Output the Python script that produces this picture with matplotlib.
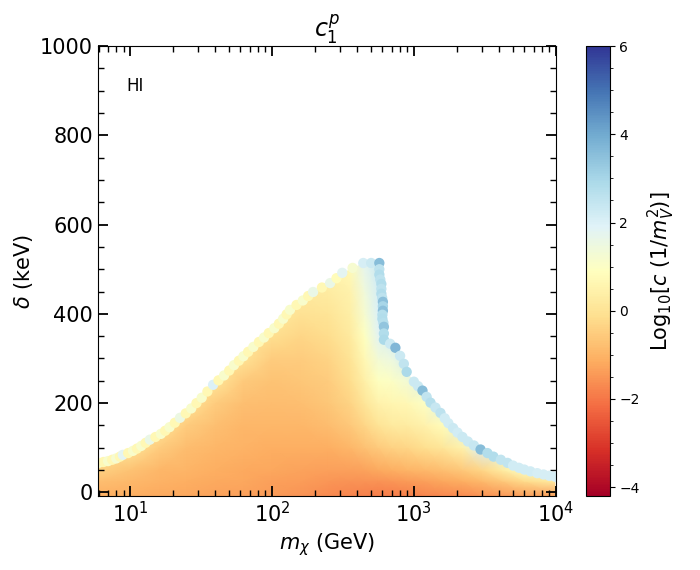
import matplotlib
matplotlib.use("Agg")
import matplotlib.pyplot as plt
from matplotlib.colors import Normalize
from matplotlib.patches import Polygon
from matplotlib.ticker import MultipleLocator
import numpy as np

# grid of log10 c values (columns = mass, rows = delta)
mass_grid = [5.9, 10, 16, 25, 40, 63, 100, 160, 250, 355, 450, 560, 700, 900, 1200, 1600, 2200, 3000, 4200, 6000, 10000]
delta_grid = [-10, 25, 50, 100, 150, 200, 250, 300, 350, 400, 450, 520]
logc_by_mass = [
    [-1.1, -0.8, -0.4, 0.1, 0.1, 0.1, 0.1, 0.1, 0.1, 0.1, 0.1, 0.1],
    [-1.1, -0.9, -0.7, 0.1, 0.1, 0.1, 0.1, 0.1, 0.1, 0.1, 0.1, 0.1],
    [-1.2, -1.05, -0.95, -0.5, 0.1, 0.1, 0.1, 0.1, 0.1, 0.1, 0.1, 0.1],
    [-1.25, -1.1, -1.0, -0.85, -0.5, 0.1, 0.1, 0.1, 0.1, 0.1, 0.1, 0.1],
    [-1.3, -1.2, -1.1, -0.95, -0.8, -0.5, 0.1, 0.1, 0.1, 0.1, 0.1, 0.1],
    [-1.35, -1.25, -1.2, -1.05, -0.95, -0.8, -0.55, 0.0, 0.2, 0.2, 0.2, 0.2],
    [-1.45, -1.35, -1.25, -1.1, -0.95, -0.85, -0.7, -0.5, -0.1, 0.2, 0.2, 0.2],
    [-1.55, -1.4, -1.3, -1.1, -0.95, -0.8, -0.65, -0.5, -0.3, -0.05, 0.2, 0.3],
    [-1.7, -1.5, -1.35, -1.1, -0.85, -0.65, -0.5, -0.35, -0.15, 0.05, 0.3, 0.5],
    [-1.8, -1.55, -1.35, -0.95, -0.6, -0.35, -0.15, 0.0, 0.2, 0.35, 0.5, 0.8],
    [-1.85, -1.55, -1.3, -0.75, -0.3, 0.1, 0.4, 0.7, 0.9, 1.2, 1.4, 1.8],
    [-1.9, -1.55, -1.2, -0.55, 0.0, 0.5, 0.9, 1.3, 1.8, 2.0, 2.1, 2.3],
    [-1.9, -1.5, -1.1, -0.4, 0.2, 0.6, 1.0, 1.5, 2.2, 2.2, 2.2, 2.2],
    [-1.85, -1.45, -1.0, -0.3, 0.3, 0.7, 1.3, 2.2, 2.2, 2.2, 2.2, 2.2],
    [-1.8, -1.35, -0.9, -0.1, 0.5, 1.0, 2.2, 2.2, 2.2, 2.2, 2.2, 2.2],
    [-1.75, -1.25, -0.8, 0.1, 0.8, 2.2, 2.2, 2.2, 2.2, 2.2, 2.2, 2.2],
    [-1.7, -1.1, -0.6, 0.5, 2.1, 2.1, 2.1, 2.1, 2.1, 2.1, 2.1, 2.1],
    [-1.6, -0.9, -0.3, 2.0, 2.0, 2.0, 2.0, 2.0, 2.0, 2.0, 2.0, 2.0],
    [-1.5, -0.6, 0.3, 2.1, 2.1, 2.1, 2.1, 2.1, 2.1, 2.1, 2.1, 2.1],
    [-1.45, -0.2, 1.0, 2.1, 2.1, 2.1, 2.1, 2.1, 2.1, 2.1, 2.1, 2.1],
    [-1.4, 0.3, 1.4, 2.1, 2.1, 2.1, 2.1, 2.1, 2.1, 2.1, 2.1, 2.1],
]

# outermost points along the top of the allowed region, left to right
edge_mass = [6.0, 6.5, 7.0, 7.5, 8.0, 8.5, 8.9, 9.7, 10.5, 11.2, 12.0, 12.9, 13.8, 15.1, 16.5,
             17.7, 19.0, 20.7, 22.5, 24.7, 27.0, 29.4, 32.0, 35.1, 38.5, 42.0, 46.0, 50.0, 54.0,
             58.5, 63.0, 68.0, 74.0, 81.0, 88.0, 95.0, 104.0, 112.0, 120.0, 127.0, 134.0, 149.0,
             165.0, 180.0, 195.0, 225.0, 257.0, 285.0, 313.0, 370.0, 440.0, 500.0,
             571.0, 571.0, 571.0, 580.0, 590.0, 590.0, 590.0, 598.0, 605.0, 605.0, 605.0, 600.0,
             600.0, 610.0, 615.0, 615.0, 615.0, 680.0, 741.0, 800.0, 850.0, 890.0, 1000.0, 1070.0,
             1150.0, 1230.0, 1310.0, 1420.0, 1540.0, 1650.0, 1750.0, 1890.0, 2030.0, 2200.0,
             2400.0, 2650.0, 2950.0, 3300.0, 3640.0, 4100.0, 4570.0, 5000.0, 5500.0, 6000.0,
             6630.0, 7400.0, 8200.0, 9000.0, 9900.0]
edge_delta = [66, 68, 70, 73, 76, 80, 84, 88, 93, 98, 104, 111, 118, 124, 131,
              138, 146, 156, 167, 177, 188, 200, 212, 226, 241, 251, 262, 273, 285,
              295, 305, 315, 326, 337, 347, 357, 368, 378, 389, 399, 409, 420,
              430, 440, 449, 459, 469, 480, 492, 503, 514, 514,
              514, 500, 488, 477, 467, 456, 445, 436, 427, 417, 407, 398,
              389, 380, 371, 356, 342, 333, 324, 306, 288, 270, 248, 238,
              228, 214, 201, 190, 178, 166, 155, 144, 134, 124,
              114, 105, 96, 88, 80, 73, 66, 60, 55, 51,
              47, 43, 40, 37, 35]
edge_logc = [1.1, 0.7, 1.1, 0.7, 1.2, 0.7, 1.8, 0.7, 1.1, 0.7, 1.1, 0.7, 1.6, 0.7, 1.1,
             0.7, 1.1, 0.7, 1.5, 0.7, 1.1, 0.7, 1.1, 0.7, 2.0, 0.7, 1.1, 0.7, 1.1,
             0.7, 1.1, 0.7, 1.1, 0.7, 1.1, 0.7, 1.1, 0.7, 1.1, 0.7, 1.1, 0.7,
             1.1, 0.7, 1.6, 0.7, 1.6, 0.8, 1.8, 1.2, 2.1, 2.3,
             3.6, 2.6, 2.8, 2.6, 2.8, 2.6, 2.8, 2.6, 3.5, 3.0, 3.5, 2.7,
             2.8, 2.7, 3.4, 2.8, 2.9, 2.3, 3.7, 2.3, 2.5, 2.9, 2.3, 2.3,
             3.6, 2.5, 2.7, 2.4, 2.6, 2.2, 2.2, 2.3, 2.2, 2.3,
             2.3, 2.4, 3.6, 2.8, 2.8, 2.5, 2.5, 2.2, 2.2, 2.2,
             2.2, 2.1, 2.1, 2.1, 2.1]

cmap = plt.get_cmap('RdYlBu')
norm = Normalize(vmin=-4.2, vmax=6)

fig = plt.figure(figsize=(7, 5.7), dpi=100)
ax = fig.add_axes([0.14, 0.13, 0.654, 0.789])
cax = fig.add_axes([0.837, 0.13, 0.034, 0.789])

Z = np.array(logc_by_mass).T
mesh = ax.pcolormesh(mass_grid, delta_grid, Z, shading='gouraud', cmap=cmap, norm=norm, zorder=1)
region = Polygon(list(zip(edge_mass, edge_delta)) + [(10000, -20), (5.9, -20)],
                 closed=True, transform=ax.transData)
mesh.set_clip_path(region)

sc = ax.scatter(edge_mass, edge_delta, c=edge_logc, cmap=cmap, norm=norm, s=55,
                edgecolors='none', zorder=2)

ax.set_xscale('log')
ax.set_xlim(5.95, 1e4)
ax.set_ylim(-8, 1000)
ax.yaxis.set_major_locator(MultipleLocator(200))
ax.yaxis.set_minor_locator(MultipleLocator(50))
ax.tick_params(which='both', direction='in', top=True, right=True, labelsize=15)
ax.tick_params(which='major', length=7, width=1.3)
ax.tick_params(which='minor', length=4, width=1.0)
ax.set_xlabel(r'$m_\chi$ (GeV)', fontsize=15)
ax.set_ylabel(r'$\delta$ (keV)', fontsize=15)
ax.set_title(r'$c_1^p$', fontsize=17)
ax.text(9.5, 900, 'HI', fontsize=12)

cb = fig.colorbar(plt.cm.ScalarMappable(norm=norm, cmap=cmap), cax=cax)
cb.set_ticks([-4, -2, 0, 2, 4, 6])
cb.ax.yaxis.set_minor_locator(MultipleLocator(0.5))
cb.ax.tick_params(labelsize=10)
cb.set_label(r'Log$_{10}$[$c$ (1/$m_V^2$)]', fontsize=15)

fig.savefig('out.png', dpi=100)
